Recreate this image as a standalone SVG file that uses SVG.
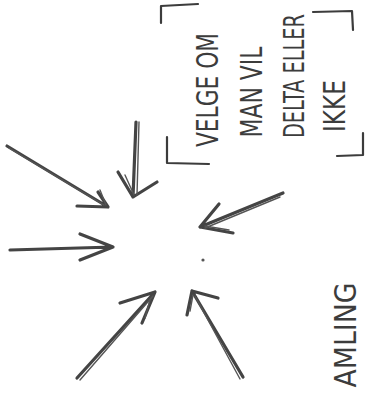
<svg xmlns="http://www.w3.org/2000/svg" width="374" height="394" viewBox="0 0 374 394">
<style>
.bg{fill:#ffffff}
.t{font-family:"DejaVu Sans Condensed","Liberation Sans Narrow","Liberation Sans",sans-serif;font-size:30px;fill:#3c3c3c}
.br{fill:none;stroke:#3c3c3c;stroke-width:2.2;stroke-linecap:round;stroke-linejoin:round}
.a{fill:none;stroke:#444444;stroke-width:3.2;stroke-linecap:round;stroke-linejoin:round}
.a2{fill:none;stroke:#555555;stroke-width:1.4;stroke-linecap:round}
</style>
<rect class="bg" x="0" y="0" width="374" height="394"/>
<g id="choice">
  <path class="br" d="M161,23 L161,6 L198,4"/>
  <path class="br" d="M313,12 L352,11 L353,30"/>
  <path class="br" d="M167,137 L167,163 L209,164"/>
  <path class="br" d="M363,133 L363,155 L337,156"/>
  <text class="t" text-anchor="middle" textLength="114" lengthAdjust="spacingAndGlyphs" transform="translate(218,90) rotate(-90)">VELGE OM</text>
  <text class="t" text-anchor="middle" textLength="91" lengthAdjust="spacingAndGlyphs" transform="translate(262,92) rotate(-90)">MAN VIL</text>
  <text class="t" text-anchor="middle" style="font-size:28px" transform="translate(304,76) rotate(-90) scale(0.77,1)">DELTA ELLER</text>
  <text class="t" text-anchor="middle" textLength="52" lengthAdjust="spacingAndGlyphs" transform="translate(345,106) rotate(-90)">IKKE</text>
</g>
<g id="amling">
  <text class="t" text-anchor="middle" textLength="105" lengthAdjust="spacingAndGlyphs" transform="translate(356,335) rotate(-90)">AMLING</text>
</g>
<g id="center">
  <circle cx="203" cy="260" r="1.6" fill="#555"/>
</g>
<g id="connectors">
  <path class="a" d="M7,146 L108,207 M77,206 L108,207 L98,192"/>
  <path class="a2" d="M9,148 L104,205 M100,190 L106,205"/>
  <path class="a" d="M136,122 L133,197 M118,172 L133,197 L157,182"/>
  <path class="a2" d="M139,122 L137,195 M125,175 L134,195"/>
  <path class="a" d="M10,250 L113,247 M80,234 L113,247 L80,260"/>
  <path class="a" d="M283,193 L200,227 M219,204 L200,227 L233,233"/>
  <path class="a2" d="M280,197 L205,228 M205,226 L229,230"/>
  <path class="a" d="M77,378 L155,292 M120,303 L155,292 L142,323"/>
  <path class="a2" d="M80,380 L153,296 M150,300 L145,318"/>
  <path class="a" d="M243,377 L192,291 M218,298 L192,291 L187,315"/>
  <path class="a2" d="M240,379 L195,296 M193,295 L190,311"/>
</g>
</svg>
